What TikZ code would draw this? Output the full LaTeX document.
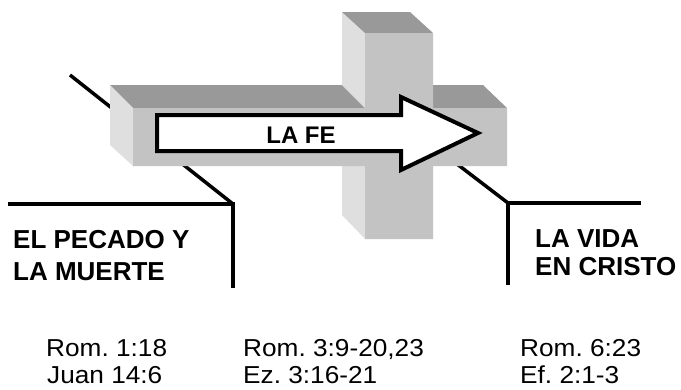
\documentclass[tikz,border=0pt]{standalone}
\usepackage{fontspec}
\setmainfont{Liberation Sans}
\definecolor{topgray}{HTML}{999999}
\definecolor{frontgray}{HTML}{C3C3C3}
\definecolor{sidegray}{HTML}{DFDFDF}
\newcommand\refwide[1]{\scalebox{1.07}[1]{#1}}
\begin{document}
\frenchspacing
\begin{tikzpicture}[x=1pt,y=-1pt,
  topface/.style={fill=topgray},
  frontface/.style={fill=frontgray},
  sideface/.style={fill=sidegray},
  leader/.style={line width=3.5pt, line join=miter},
  fearrow/.style={fill=white, draw=black, line width=4pt, line join=miter},
  biglabel/.style={font=\fontsize{26}{30}\selectfont\bfseries, inner sep=0pt, anchor=base west},
  felabel/.style={font=\fontsize{24}{28}\selectfont\bfseries, inner sep=0pt},
  reflabel/.style={font=\fontsize{24.5}{28}\selectfont\frenchspacing, inner sep=0pt, anchor=base west}]
\useasboundingbox (0,0) rectangle (681,389);

% leader lines (behind the cross)
\coordinate (lstart) at (70,75);
\coordinate (lcorner) at (233,204);
\coordinate (lend) at (8,204);
\coordinate (ldown) at (233,288);
\coordinate (rstart) at (440,151);
\coordinate (rcorner) at (508,203);
\coordinate (rend) at (641,203);
\coordinate (rdown) at (508,285);
\draw[leader] (lstart) -- (lcorner);
\draw[leader] (lend) -- (lcorner) -- (ldown);
\draw[leader] (rstart) -- (rcorner);
\draw[leader] (rend) -- (rcorner) -- (rdown);

% horizontal beam top face
\fill[topface] (110,85) -- (483,85) -- (507,108) -- (133,108) -- cycle;
% vertical beam left faces
\fill[sideface] (342,12) -- (365,33) -- (365,108) -- (342,85) -- cycle;
\fill[sideface] (342,166) -- (365,166) -- (365,239) -- (342,215) -- cycle;
% horizontal beam left face
\fill[sideface] (110,85) -- (133,108) -- (133,166) -- (110,145) -- cycle;
% vertical beam top face
\fill[topface] (342,12) -- (410,12) -- (433,33) -- (365,33) -- cycle;
% front face of the cross
\fill[frontface] (133,108) -- (365,108) -- (365,33) -- (433,33) -- (433,108)
  -- (507,108) -- (507,166) -- (433,166) -- (433,239) -- (365,239)
  -- (365,166) -- (133,166) -- cycle;

% the arrow
\draw[fearrow] (157,115) -- (401,115) -- (401,97) -- (478,133) -- (401,170)
  -- (401,151) -- (157,151) -- cycle;
\node[felabel] (fe) at (301,135.5) {LA FE};

% labels
\node[biglabel] (pecado1) at (13,248) {EL PECADO Y};
\node[biglabel] (pecado2) at (13,280) {LA MUERTE};
\node[biglabel] (vida1) at (535,247) {LA VIDA};
\node[biglabel] (vida2) at (535,275) {EN CRISTO};

% references
\node[reflabel] (r1a) at (46,356) {\refwide{Rom. 1:18}};
\node[reflabel] (r1b) at (47,383) {\refwide{Juan 14:6}};
\node[reflabel] (r2a) at (243,356) {\refwide{Rom. 3:9-20,23}};
\node[reflabel] (r2b) at (243,383) {\refwide{Ez. 3:16-21}};
\node[reflabel] (r3a) at (520,356) {\refwide{Rom. 6:23}};
\node[reflabel] (r3b) at (520,383) {\refwide{Ef. 2:1-3}};
\end{tikzpicture}
\end{document}
